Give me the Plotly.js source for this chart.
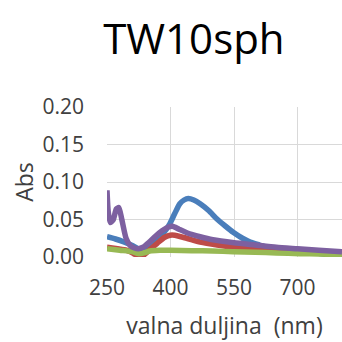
<!DOCTYPE html>
<html>
<head>
<meta charset="utf-8">
<script src="https://cdn.plot.ly/plotly-3.0.1.min.js"></script>
<style>html,body{margin:0;padding:0;background:#fff;}#chart{width:342px;height:342px;}</style>
</head>
<body>
<div id="chart"></div>
<script>
const blueX = [250,270,290,311,324,340,360,375,390,399,410,422,432,442,455,470,490,509,530,548,570,588,610,627,660,706,750,784,805];
const blueY = [0.027,0.024,0.020,0.015,0.011,0.013,0.020,0.027,0.037,0.045,0.058,0.071,0.076,0.078,0.076,0.071,0.062,0.051,0.041,0.033,0.025,0.020,0.016,0.013,0.011,0.009,0.005,0.002,0.002];
const redX = [250,275,296,312,322,330,340,351,370,385,399,410,438,470,510,548,590,627,670,706,750,805];
const redY = [0.013,0.011,0.009,0.005,0.001,0.000,0.004,0.010,0.019,0.026,0.029,0.029,0.025,0.020,0.016,0.013,0.011,0.009,0.008,0.007,0.006,0.005];
const greenX = [250,280,311,324,340,351,375,399,450,500,548,600,650,706,750,805];
const greenY = [0.011,0.009,0.007,0.0045,0.006,0.008,0.009,0.009,0.0085,0.008,0.007,0.0065,0.0055,0.0045,0.004,0.003];
const purpleX = [250,253,258,265,272,278,285,295,305,315,324,335,350,365,380,395,405,420,440,470,500,550,600,650,700,750,805];
const purpleY = [0.089,0.060,0.046,0.050,0.064,0.066,0.050,0.025,0.015,0.012,0.011,0.013,0.020,0.028,0.035,0.040,0.041,0.037,0.032,0.027,0.023,0.019,0.016,0.013,0.011,0.009,0.007];
const xTicks = [250,400,550,700];
const yTicks = [0,0.05,0.10,0.15,0.20];
const yTickText = ['0.00','0.05','0.10','0.15','0.20'];

const mk = (x,y,c) => ({x:x,y:y,type:'scatter',mode:'lines',line:{color:c,width:5.5,shape:'spline',smoothing:0.6},hoverinfo:'skip'});
const data = [
  mk(blueX,blueY,'#4a7ebb'),
  mk(redX,redY,'#be4b48'),
  mk(greenX,greenY,'#98b954'),
  mk(purpleX,purpleY,'#7d60a0')
];
const F = 'Open Sans, sans-serif';
const layout = {
  width:342,height:342,
  margin:{l:107,r:0,t:107,b:85},
  paper_bgcolor:'#fff',plot_bgcolor:'#fff',
  showlegend:false,
  font:{family:F,color:'#404040',size:21},
  title:{text:'TW10sph',font:{family:F,size:42,color:'#000'},x:0.567,xanchor:'center',y:0.885,yanchor:'middle'},
  xaxis:{range:[250,805],tickvals:xTicks,ticktext:xTicks.map(String),showgrid:true,gridcolor:'#d9d9d9',gridwidth:1,
    zeroline:false,showline:false,ticks:'',ticklabelstandoff:16,tickfont:{family:F,size:21,color:'#404040'},
    title:{text:'valna duljina  (nm)',font:{family:F,size:23,color:'#404040'},standoff:17}},
  yaxis:{range:[0,0.2],tickvals:yTicks,ticktext:yTickText,showgrid:true,gridcolor:'#d9d9d9',gridwidth:1,
    zeroline:false,showline:false,ticks:'',ticklabelstandoff:22,tickfont:{family:F,size:21,color:'#404040'},
    title:{text:'Abs',font:{family:F,size:23,color:'#404040'},standoff:2}}
};
Plotly.newPlot('chart',data,layout,{staticPlot:true,displayModeBar:false});
</script>
</body>
</html>
